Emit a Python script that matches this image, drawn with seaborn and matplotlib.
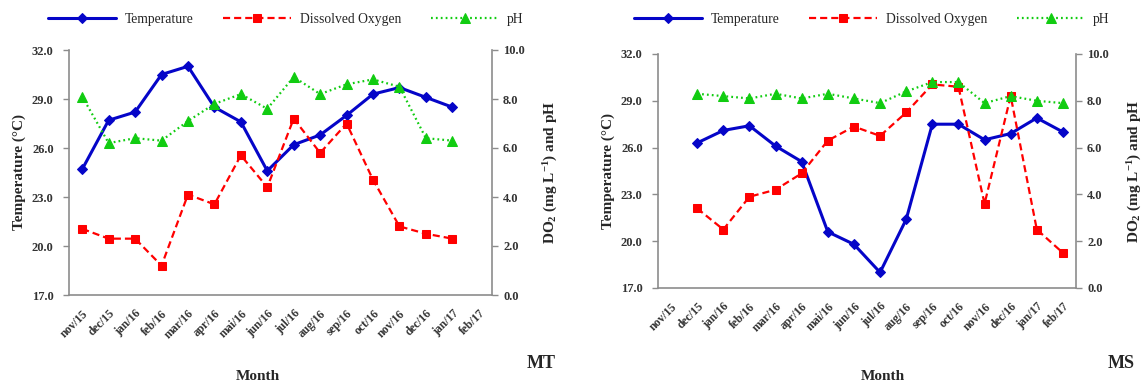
import numpy as np
import pandas as pd
import matplotlib
matplotlib.use("Agg")
import matplotlib.pyplot as plt
import seaborn as sns

months = ['nov/15', 'dec/15', 'jan/16', 'feb/16', 'mar/16', 'apr/16', 'mai/16', 'jun/16',
          'jul/16', 'aug/16', 'sep/16', 'oct/16', 'nov/16', 'dec/16', 'jan/17', 'feb/17']

# MT panel: nov/15 .. jan/17
mt_months = months[0:15]
mt_temp = [24.7, 27.7, 28.2, 30.5, 31.0, 28.5, 27.6, 24.6, 26.2, 26.8, 28.0, 29.3, 29.7, 29.1, 28.5]
mt_do = [2.7, 2.3, 2.3, 1.2, 4.1, 3.7, 5.7, 4.4, 7.2, 5.8, 7.0, 4.7, 2.8, 2.5, 2.3]
mt_ph = [8.1, 6.2, 6.4, 6.3, 7.1, 7.8, 8.2, 7.6, 8.9, 8.2, 8.6, 8.8, 8.5, 6.4, 6.3]

# MS panel: dec/15 .. feb/17
ms_months = months[1:16]
ms_temp = [26.3, 27.1, 27.4, 26.1, 25.1, 20.6, 19.8, 18.0, 21.4, 27.5, 27.5, 26.5, 26.9, 27.9, 27.0]
ms_do = [3.4, 2.5, 3.9, 4.2, 4.9, 6.3, 6.9, 6.5, 7.5, 8.7, 8.6, 3.6, 8.2, 2.5, 1.5]
ms_ph = [8.3, 8.2, 8.1, 8.3, 8.1, 8.3, 8.1, 7.9, 8.4, 8.8, 8.8, 7.9, 8.2, 8.0, 7.9]

temp_ticks = [17.0, 20.0, 23.0, 26.0, 29.0, 32.0]
right_ticks = [0.0, 2.0, 4.0, 6.0, 8.0, 10.0]

sns.set_style("white")
plt.rcParams['font.family'] = ['Liberation Serif', 'DejaVu Serif']
plt.rcParams['mathtext.fontset'] = 'custom'
plt.rcParams['mathtext.rm'] = 'Liberation Serif:bold'
plt.rcParams['mathtext.it'] = 'Liberation Serif:bold'
plt.rcParams['mathtext.bf'] = 'Liberation Serif:bold'
plt.rcParams['mathtext.default'] = 'rm'

BLUE = '#0505C8'
RED = '#FF0000'
GREEN = '#11CC11'
GRAY = '#8C8C8C'

fig = plt.figure(figsize=(11.42, 3.83), dpi=100)


def panel(rect, mlist, temp, do, ph, tag, month_x, tag_x, leg_x):
    ax = fig.add_axes(rect)
    ax2 = ax.twinx()
    df = pd.DataFrame({
        'month': mlist,
        'pos': [months.index(m) for m in mlist],
        'temp': temp, 'do': do, 'ph': ph,
    })
    sns.lineplot(data=df, x='pos', y='temp', ax=ax, color=BLUE, linewidth=2.2,
                 marker='D', markersize=5, markeredgecolor=BLUE, label='Temperature')
    sns.lineplot(data=df, x='pos', y='do', ax=ax2, color=RED, linewidth=1.6,
                 marker='s', markersize=6, markeredgecolor=RED, label='Dissolved Oxygen')
    sns.lineplot(data=df, x='pos', y='ph', ax=ax2, color=GREEN, linewidth=1.6,
                 marker='^', markersize=6.5, markeredgecolor=GREEN, label='pH')
    l_t = ax.get_lines()[0]
    l_do, l_ph = ax2.get_lines()[0], ax2.get_lines()[1]
    l_do.set_dashes((3.2, 1.8))
    l_ph.set_dashes((0.8, 1.4))
    for a in (ax, ax2):
        lg = a.get_legend()
        if lg is not None:
            lg.remove()

    ax.set_xlim(-0.5, 15.5)
    ax.set_ylim(17, 32)
    ax2.set_ylim(0, 10)
    ax.set_yticks(temp_ticks)
    ax.set_yticklabels([f"{v:.1f}" for v in temp_ticks])
    ax2.set_yticks(right_ticks)
    ax2.set_yticklabels([f"{v:.1f}" for v in right_ticks])

    ax.set_xticks(np.arange(-0.5, 16, 1.0))
    ax.set_xticklabels([])
    ax.set_xticks(np.arange(0, 16), minor=True)
    ax.set_xticklabels(months, minor=True, rotation=45, ha='right',
                       rotation_mode='anchor', fontsize=8.5, fontweight='bold')
    ax.tick_params(axis='x', which='minor', length=0, pad=9)
    ax.tick_params(axis='x', which='major', length=4, width=1, color=GRAY, direction='out')
    ax.tick_params(axis='y', length=4, width=1, color=GRAY, direction='out',
                   labelsize=9, pad=7)
    ax2.tick_params(axis='y', length=4, width=1, color=GRAY, direction='out',
                    labelsize=9, pad=4)
    for t in ax.get_yticklabels() + ax2.get_yticklabels():
        t.set_fontweight('bold')
        t.set_color('#333333')
    for t in ax.get_xticklabels(minor=True):
        t.set_color('#333333')

    ax.set_xlabel('')
    ax.set_ylabel('Temperature (°C)', fontsize=11, fontweight='bold', labelpad=4)
    ax2.set_ylabel('DO$_2$ (mg L$^{-1}$) and pH', fontsize=11, fontweight='bold',
                   rotation=90, labelpad=12)
    ax.set_facecolor('none')

    for a in (ax, ax2):
        a.spines['top'].set_visible(False)
        for s in a.spines.values():
            s.set_color(GRAY)
            s.set_linewidth(1.2)
    ax.spines['right'].set_visible(False)
    ax2.spines['left'].set_visible(False)
    ax2.spines['bottom'].set_visible(False)
    ax.grid(False)
    ax2.grid(False)

    fig.legend([l_t, l_do, l_ph], ['Temperature', 'Dissolved Oxygen', 'pH'],
               loc='center', bbox_to_anchor=(leg_x, 1 - 19 / 383), ncol=3,
               frameon=False, fontsize=9.8, handlelength=5.0, handletextpad=0.6,
               columnspacing=2.2, numpoints=1)
    fig.text(month_x, 1 - 376 / 383, 'Month', ha='center', va='center',
             fontsize=11, fontweight='bold')
    fig.text(tag_x, 1 - 364 / 383, tag, ha='center', va='center',
             fontsize=13, fontweight='bold')
    return ax, ax2


panel([69 / 1142, 1 - 295 / 383, 423 / 1142, 245 / 383], mt_months, mt_temp, mt_do, mt_ph,
      'MT', 258 / 1142, 541 / 1142, 286 / 1142)
panel([658 / 1142, 1 - 288 / 383, 418 / 1142, 234 / 383], ms_months, ms_temp, ms_do, ms_ph,
      'MS', 883 / 1142, 1121 / 1142, 872 / 1142)

fig.savefig('out.png', dpi=100)
